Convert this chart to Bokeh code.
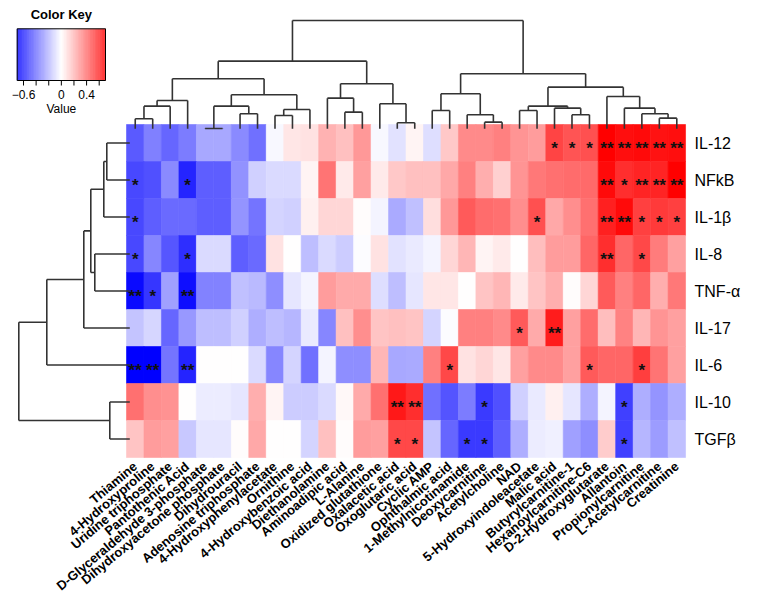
import numpy as np
from bokeh.plotting import figure
from bokeh.models import Range1d, ColumnDataSource, LinearColorMapper
from bokeh.transform import transform
from bokeh.embed import file_html
from bokeh.resources import INLINE
from bokeh.core.properties import value

# ---------------- data ----------------
metabolites = [
    "Thiamine", "4-Hydroxyproline", "Uridine triphosphate", "Pantothenic Acid",
    "D-Glyceraldehyde 3-phosphate", "Dihydroxyacetone phosphate", "Dihydrouracil",
    "Adenosine triphosphate", "4-Hydroxyphenylacetate", "Ornithine",
    "4-Hydroxybenzoic acid", "Diethanolamine", "Aminoadipic acid", "L-Alanine",
    "Oxidized glutathione", "Oxalacetic acid", "Oxoglutaric acid", "Cyclic AMP",
    "Ophthalmic acid", "1-Methylnicotinamide", "Deoxycarnitine", "Acetylcholine",
    "NAD", "5-Hydroxyindoleacetate", "Malic acid", "Butyrylcarnitine-1",
    "Hexanoylcarnitine-C6", "D-2-Hydroxyglutarate", "Allantoin",
    "Propionylcarnitine", "L-Acetylcarnitine", "Creatinine",
]
cytokines = ["IL-12", "NFkB", "IL-1β", "IL-8", "TNF-α", "IL-17", "IL-6", "IL-10", "TGFβ"]

r_il12 = [-0.45, -0.35, -0.42, -0.36, -0.24, -0.24, -0.32, -0.39, -0.02, 0.07, 0.08, 0.21, 0.17, 0.28, -0.02, -0.08,
          0.03, -0.09, 0.15, 0.32, 0.32, 0.35, 0.29, 0.27, 0.51, 0.47, 0.48, 0.70, 0.66, 0.67, 0.65, 0.66]
r_nfkb = [-0.50, -0.48, -0.32, -0.60, -0.44, -0.44, -0.30, -0.13, -0.10, -0.10, 0.03, 0.38, 0.06, 0.26, 0.06, 0.15,
          0.17, 0.17, 0.24, 0.35, 0.22, 0.13, 0.29, 0.37, 0.39, 0.40, 0.41, 0.67, 0.57, 0.60, 0.60, 0.70]
r_il1b = [-0.50, -0.44, -0.41, -0.41, -0.44, -0.44, -0.29, -0.38, -0.12, -0.13, 0.04, 0.11, 0.11, 0.01, -0.03, -0.23,
          -0.17, 0.09, 0.28, 0.45, 0.40, 0.39, 0.31, 0.48, 0.24, 0.31, 0.39, 0.61, 0.67, 0.52, 0.54, 0.52]
r_il8 = [-0.50, -0.33, -0.46, -0.57, -0.10, -0.10, -0.44, -0.41, 0.08, 0.00, -0.18, -0.10, -0.14, -0.01, 0.08, -0.08,
         -0.06, -0.03, 0.11, 0.20, 0.03, 0.06, 0.00, 0.18, 0.27, 0.27, 0.42, 0.57, 0.42, 0.50, 0.36, 0.26]
r_tnfa = [-0.67, -0.55, -0.26, -0.66, -0.34, -0.34, -0.17, -0.19, -0.31, -0.07, -0.03, 0.27, 0.23, 0.23, -0.09, -0.18,
          -0.07, 0.07, 0.07, 0.00, 0.16, 0.20, 0.06, 0.16, 0.22, 0.01, 0.11, 0.45, 0.35, 0.42, 0.22, 0.37]
r_il17 = [-0.16, -0.11, -0.42, -0.28, -0.18, -0.18, -0.13, -0.22, -0.18, -0.20, -0.06, -0.33, 0.17, 0.31, 0.16, 0.17,
          0.16, -0.12, -0.01, 0.35, 0.35, 0.32, 0.45, 0.23, 0.62, 0.26, 0.40, 0.18, 0.34, 0.20, 0.29, 0.26]
r_il6 = [-0.70, -0.70, -0.38, -0.60, 0.00, 0.00, 0.00, -0.10, -0.33, -0.12, -0.39, -0.03, -0.31, -0.31, 0.20, -0.24,
         -0.23, 0.35, 0.50, 0.08, 0.11, 0.07, 0.26, 0.32, 0.32, 0.26, 0.45, 0.42, 0.42, 0.53, 0.38, 0.26]
r_il10 = [0.39, 0.31, 0.30, 0.00, -0.05, -0.05, -0.07, 0.22, 0.03, -0.14, -0.14, -0.10, 0.02, 0.23, 0.39, 0.63,
          0.57, -0.39, -0.47, -0.36, -0.54, -0.48, -0.13, -0.06, 0.04, -0.07, -0.22, -0.03, -0.52, -0.22, -0.29, -0.22]
r_tgfb = [0.16, 0.27, 0.26, -0.15, -0.07, -0.07, 0.01, 0.24, 0.00, 0.00, -0.12, 0.17, 0.01, 0.27, 0.26, 0.50,
          0.50, -0.16, -0.42, -0.54, -0.54, -0.44, -0.22, -0.05, -0.04, -0.26, -0.31, 0.14, -0.52, -0.20, -0.27, -0.17]
correlations = [r_il12, r_nfkb, r_il1b, r_il8, r_tnfa, r_il17, r_il6, r_il10, r_tgfb]

# significance marks: (row, column, mark)
significance = [
    (0, 24, "*"), (0, 25, "*"), (0, 26, "*"), (0, 27, "**"), (0, 28, "**"), (0, 29, "**"), (0, 30, "**"), (0, 31, "**"),
    (1, 0, "*"), (1, 3, "*"), (1, 27, "**"), (1, 28, "*"), (1, 29, "**"), (1, 30, "**"), (1, 31, "**"),
    (2, 0, "*"), (2, 23, "*"), (2, 27, "**"), (2, 28, "**"), (2, 29, "*"), (2, 30, "*"), (2, 31, "*"),
    (3, 0, "*"), (3, 3, "*"), (3, 27, "**"), (3, 29, "*"),
    (4, 0, "**"), (4, 1, "*"), (4, 3, "**"),
    (5, 22, "*"), (5, 24, "**"),
    (6, 0, "**"), (6, 1, "**"), (6, 3, "**"), (6, 18, "*"), (6, 26, "*"), (6, 29, "*"),
    (7, 15, "**"), (7, 16, "**"), (7, 20, "*"), (7, 28, "*"),
    (8, 15, "*"), (8, 16, "*"), (8, 19, "*"), (8, 20, "*"), (8, 28, "*"),
]

# column dendrogram merges: (child a, child b, height); leaves 0..31, new clusters 32..
col_merges = [
    (0, 1, 30), (32, 2, 68), (33, 3, 85), (4, 5, 1), (6, 7, 45), (35, 36, 68),
    (8, 9, 40), (38, 10, 58), (37, 39, 102), (34, 40, 150), (12, 13, 50), (11, 42, 92),
    (15, 16, 18), (14, 44, 75), (43, 45, 135), (41, 46, 203), (17, 18, 55), (20, 21, 20),
    (19, 49, 42), (48, 50, 105), (22, 23, 55), (25, 26, 42), (24, 53, 62), (52, 54, 68),
    (30, 31, 32), (29, 56, 45), (28, 57, 62), (27, 58, 97), (55, 59, 125), (51, 60, 165),
    (47, 61, 325),
]
# row dendrogram merges: leaves 0..8, new clusters 9..
row_merges = [
    (0, 1, 23), (9, 2, 26), (3, 4, 35), (10, 11, 39), (12, 5, 46), (13, 6, 83),
    (7, 8, 20), (14, 15, 111),
]

key_ticks = [-0.6, -0.4, -0.2, 0.0, 0.2, 0.4, 0.6]
key_labels = {-0.6: "\u22120.6", 0.0: "0", 0.4: "0.4"}

# ---------------- layout ----------------
W, H = 751, 595
CW, RH = 17.47, 37.0          # cell size, px
HX, HY = 134 - 8, 132 - 8     # heatmap top-left within the figure, px
VMIN, VMAX = -0.7, 0.7
FONT = "Liberation Sans"
n_rows, n_cols = len(cytokines), len(metabolites)


def px_x(px):
    return (px - HX) / CW


def px_y(py):
    return (py - HY) / RH


def ramp(n):
    out = []
    for k in range(n):
        t = k / (n - 1) * 2 - 1
        if t < 0:
            c = int(round(255 * (1 + t)))
            out.append("#%02x%02xff" % (c, c))
        else:
            c = int(round(255 * (1 - t)))
            out.append("#ff%02x%02x" % (c, c))
    return out


mapper = LinearColorMapper(palette=ramp(256), low=VMIN, high=VMAX)

p = figure(width=W, height=H, x_range=Range1d(px_x(0), px_x(W)), y_range=Range1d(px_y(H), px_y(0)),
           x_axis_type=None, y_axis_type=None, output_backend="svg", toolbar_location=None,
           min_border=0, outline_line_color=None)
p.grid.visible = False

# heatmap
xs, ys, vs = [], [], []
for r, row in enumerate(correlations):
    for c, v in enumerate(row):
        xs.append(c + 0.5)
        ys.append(r + 0.5)
        vs.append(v)
src = ColumnDataSource(dict(x=xs, y=ys, v=vs))
p.rect("x", "y", width=1, height=1, source=src, fill_color=transform("v", mapper),
       line_color=transform("v", mapper), line_width=0.6)

# significance stars
p.text(x=[c + 0.5 for r, c, m in significance], y=[r + 0.5 for r, c, m in significance],
       text=[m for r, c, m in significance], text_align="center", text_baseline="middle",
       y_offset=5, text_font=value(FONT), text_font_size="17px", text_font_style="bold",
       text_color="#111111")

# column dendrogram
LINE = "#333333"
pos = {i: i + 0.5 for i in range(n_cols)}
hgt = {i: 0 for i in range(n_cols)}
cy0 = px_y(128.3)
cys = (px_y(128.3) - px_y(20)) / 325.0
x0s, y0s, x1s, y1s = [], [], [], []
for k, (a, b, h) in enumerate(col_merges):
    nid = n_cols + k
    for ch in (a, b):
        x0s.append(pos[ch]); x1s.append(pos[ch])
        y0s.append(cy0 - hgt[ch] * cys); y1s.append(cy0 - h * cys)
    x0s.append(pos[a]); x1s.append(pos[b])
    y0s.append(cy0 - h * cys); y1s.append(cy0 - h * cys)
    pos[nid] = (pos[a] + pos[b]) / 2
    hgt[nid] = h
p.segment(x0s, y0s, x1s, y1s, line_color=LINE, line_width=1.6)

# row dendrogram
rpos = {i: i + 0.5 for i in range(n_rows)}
rhgt = {i: 0 for i in range(n_rows)}
rx0 = px_x(129.3)
rxs = 1.0 / CW
x0s, y0s, x1s, y1s = [], [], [], []
for k, (a, b, h) in enumerate(row_merges):
    nid = n_rows + k
    for ch in (a, b):
        y0s.append(rpos[ch]); y1s.append(rpos[ch])
        x0s.append(rx0 - rhgt[ch] * rxs); x1s.append(rx0 - h * rxs)
    y0s.append(rpos[a]); y1s.append(rpos[b])
    x0s.append(rx0 - h * rxs); x1s.append(rx0 - h * rxs)
    rpos[nid] = (rpos[a] + rpos[b]) / 2
    rhgt[nid] = h
p.segment(x0s, y0s, x1s, y1s, line_color=LINE, line_width=1.6)

# labels
p.text(x=[n_cols] * n_rows, y=[r + 0.5 for r in range(n_rows)], text=cytokines, x_offset=9,
       text_align="left", text_baseline="middle", text_font=value(FONT), text_font_size="16px",
       text_color="black")
p.text(x=[c + 0.5 for c in range(n_cols)], y=[n_rows] * n_cols, text=metabolites, y_offset=7,
       angle=np.deg2rad(40), text_align="right", text_baseline="middle", text_font=value(FONT),
       text_font_size="13px", text_font_style="bold", text_color="black")

# color key
kx0, kx1 = px_x(16.7), px_x(105)
ky0, ky1 = px_y(28.3), px_y(80)


def key_x(v):
    return kx0 + (v - VMIN) / (VMAX - VMIN) * (kx1 - kx0)


kv = np.linspace(VMIN, VMAX, 141)
step = (kx1 - kx0) / (len(kv) - 1)
ksrc = ColumnDataSource(dict(x=[key_x(v) for v in kv], v=list(kv)))
p.rect("x", (ky0 + ky1) / 2, width=step * 1.05, height=ky1 - ky0, source=ksrc,
       fill_color=transform("v", mapper), line_color=None)
p.rect((kx0 + kx1) / 2, (ky0 + ky1) / 2, width=kx1 - kx0, height=ky1 - ky0, fill_color=None,
       line_color="black", line_width=1)
p.segment([key_x(t) for t in key_ticks], [ky1] * len(key_ticks), [key_x(t) for t in key_ticks],
          [ky1 + 5 / RH] * len(key_ticks), line_color="black", line_width=1)
p.text(x=[key_x(t) for t in key_labels], y=[ky1] * len(key_labels), text=list(key_labels.values()),
       y_offset=14, text_align="center", text_baseline="middle", text_font=value(FONT),
       text_font_size="12px", text_color="black")
p.text(x=[(kx0 + kx1) / 2], y=[ky1], text=["Value"], y_offset=28, text_align="center",
       text_baseline="middle", text_font=value(FONT), text_font_size="12px", text_color="black")
p.text(x=[(kx0 + kx1) / 2], y=[ky0], text=["Color Key"], y_offset=-14, text_align="center",
       text_baseline="middle", text_font=value(FONT), text_font_size="13px", text_font_style="bold",
       text_color="black")

open("out.html", "w").write(file_html(p, INLINE))
